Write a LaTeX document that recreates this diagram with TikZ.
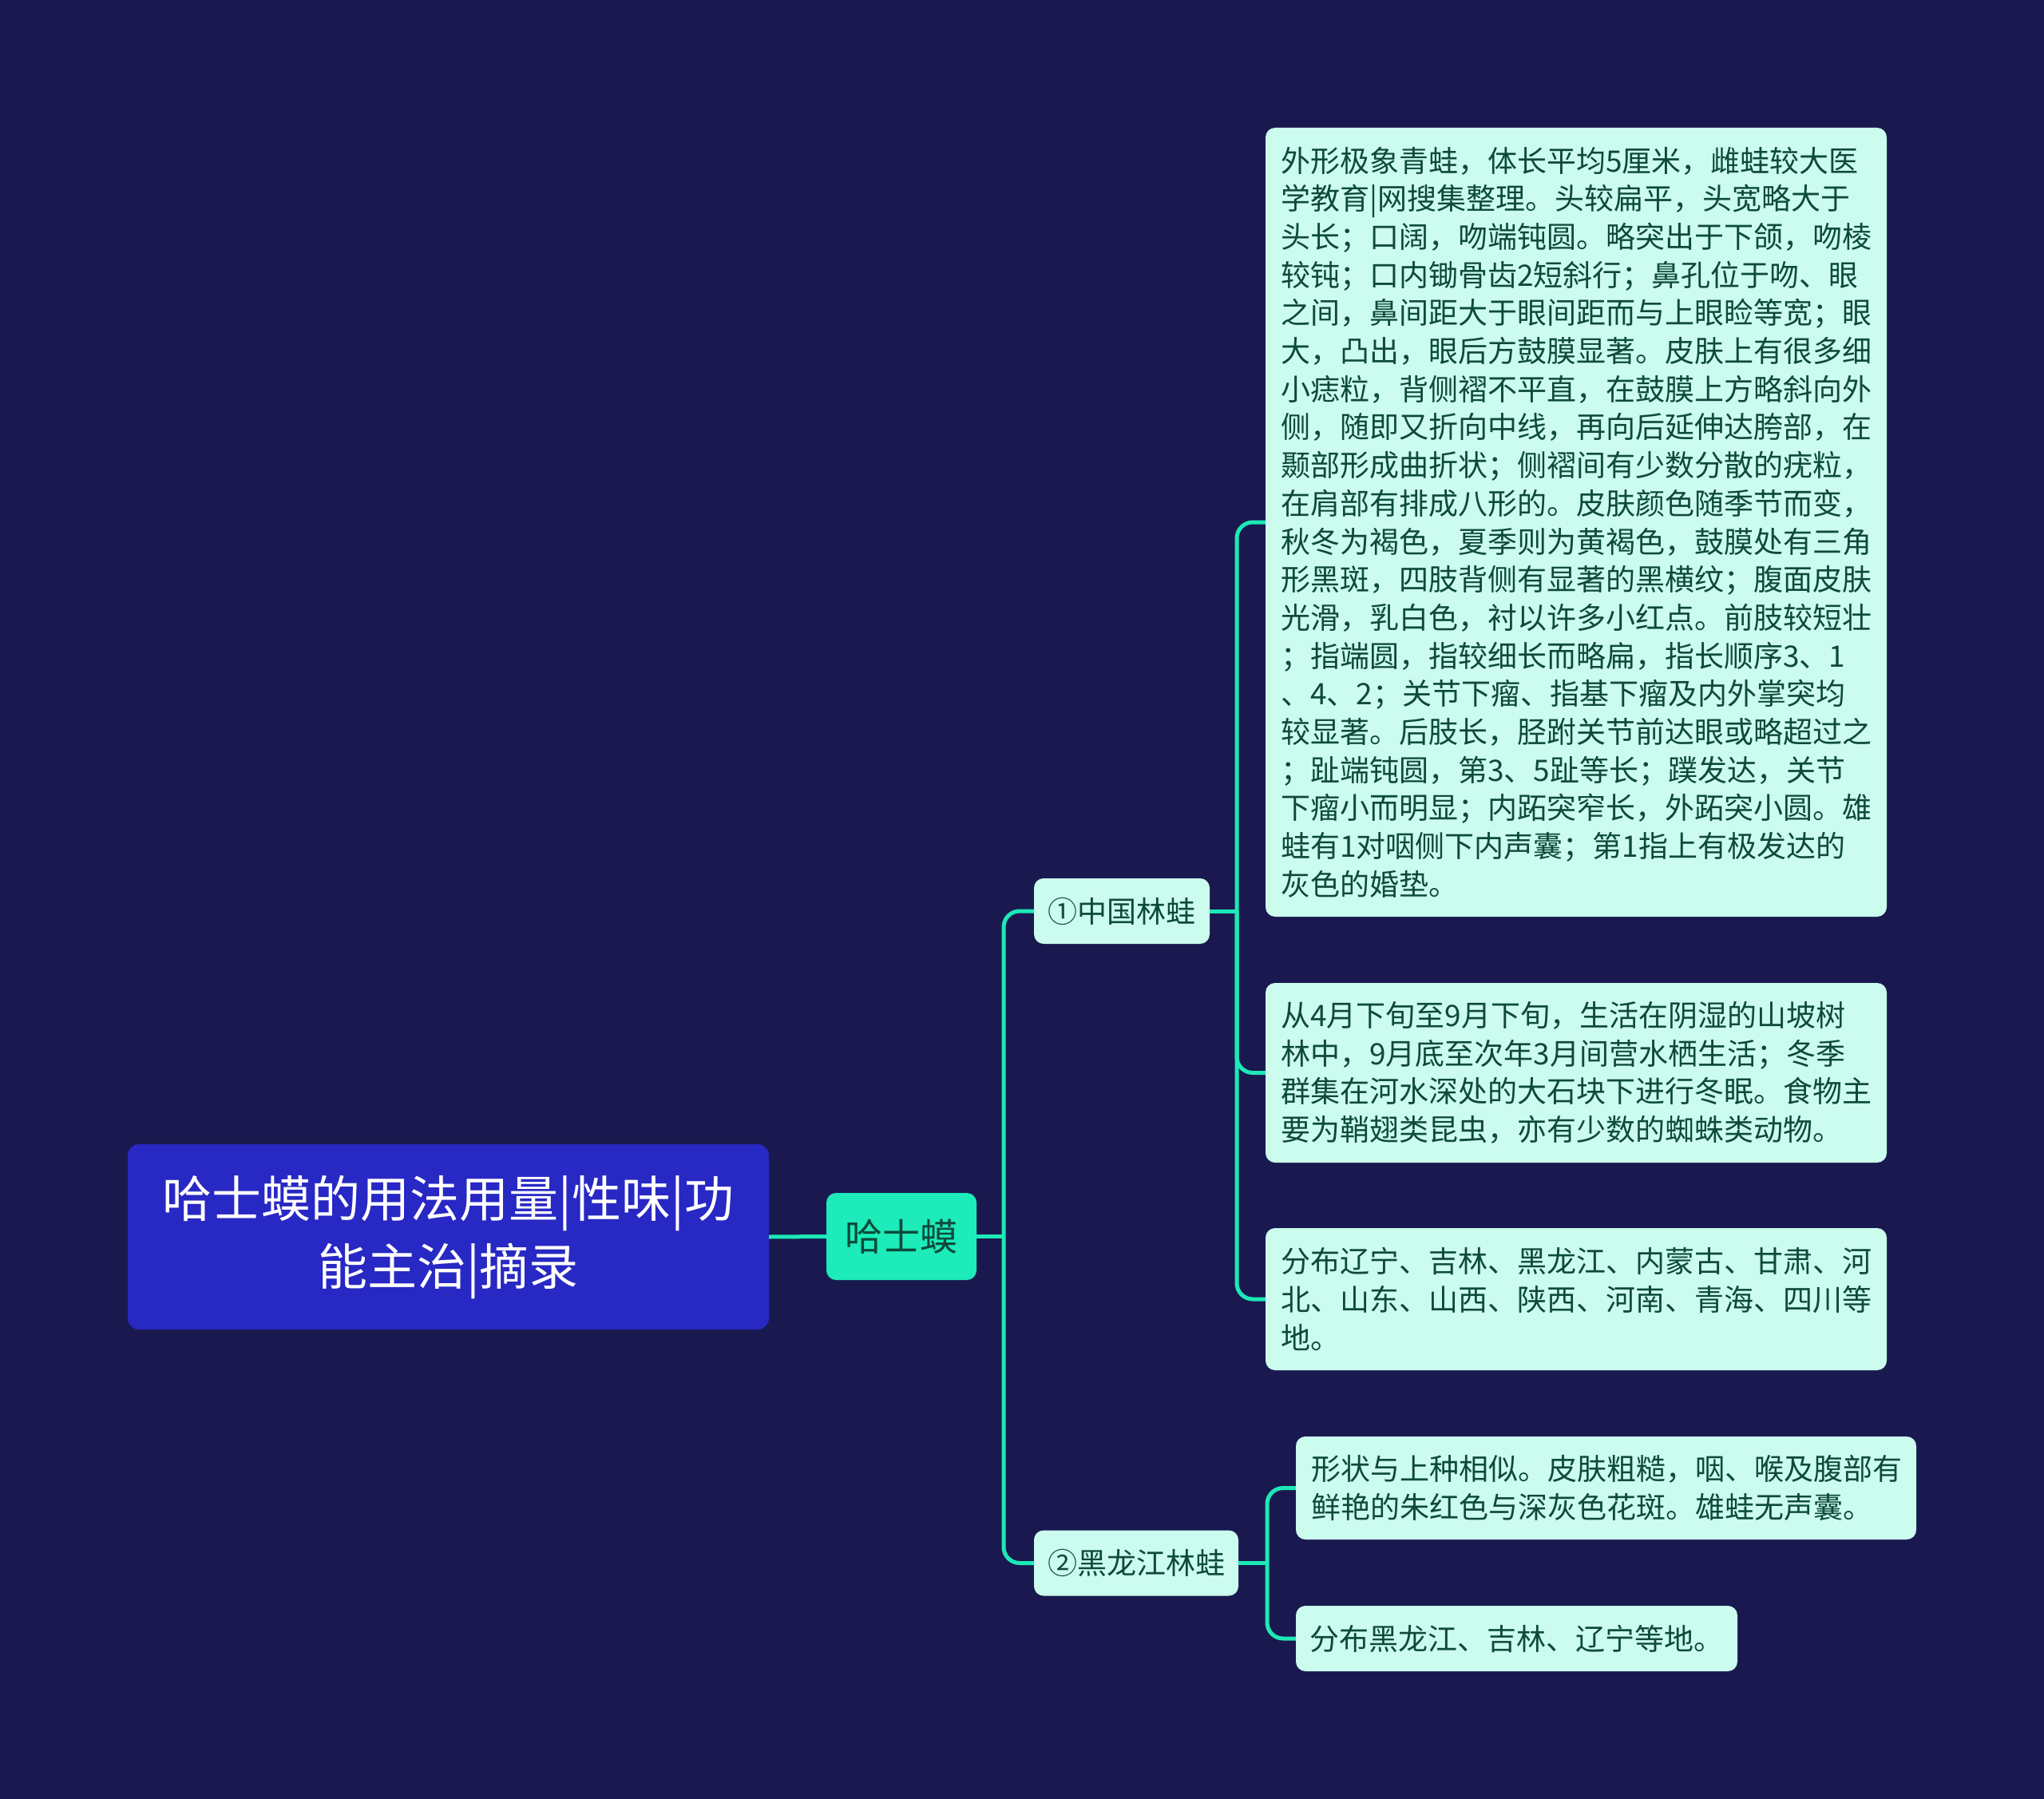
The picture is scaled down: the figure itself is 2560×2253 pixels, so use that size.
\documentclass[tikz,border=0pt]{standalone}
\usepackage{fontspec}
\setmainfont{Noto Sans CJK SC}
\definecolor{bgc}{HTML}{19194F}
\definecolor{rootfill}{HTML}{2828C4}
\definecolor{mainfill}{HTML}{1DEBBA}
\definecolor{leaffill}{HTML}{CCFCEE}
\definecolor{leaftext}{HTML}{0D4A3A}
\definecolor{conncol}{HTML}{1DE9B6}
\begin{document}
\begin{tikzpicture}[x=1pt,y=-1pt,
  rootbox/.style={fill=rootfill, rounded corners=14pt, text=white, align=center,
    font=\fontsize{62}{85}\selectfont, inner sep=0pt, minimum width=803pt, minimum height=232pt},
  mainbox/.style={fill=mainfill, rounded corners=12pt, text=leaftext,
    font=\fontsize{47}{56}\selectfont, inner sep=0pt, minimum width=188pt, minimum height=109pt},
  subbox/.style={fill=leaffill, rounded corners=12pt, text=leaftext,
    font=\fontsize{37}{47.7}\selectfont, inner sep=0pt, minimum height=82pt},
  leafbox/.style={fill=leaffill, rounded corners=12pt, text=leaftext, align=left,
    font=\fontsize{37}{47.7}\selectfont, inner xsep=19pt, inner ysep=0pt},
  conn/.style={draw=conncol, line width=5pt, rounded corners=20pt}
]
\fill[bgc] (0,0) rectangle (2560,2253);
\useasboundingbox (0,0) rectangle (2560,2253);

\node[rootbox] (root) at (561.5,1549) {哈士蟆的用法用量|性味|功\\能主治|摘录};
\node[mainbox] (main) at (1129,1548.5) {哈士蟆};
\node[subbox, minimum width=220pt] (s1) at (1405,1141) {①中国林蛙};
\node[subbox, minimum width=256pt] (s2) at (1423,1957.5) {②黑龙江林蛙};

\node[leafbox, text width=740pt, minimum height=988pt] (l1) at (1974,654) {外形极象青蛙，体长平均5厘米，雌蛙较大医\\
学教育|网搜集整理。头较扁平，头宽略大于\\
头长；口阔，吻端钝圆。略突出于下颌，吻棱\\
较钝；口内锄骨齿2短斜行；鼻孔位于吻、眼\\
之间，鼻间距大于眼间距而与上眼睑等宽；眼\\
大，凸出，眼后方鼓膜显著。皮肤上有很多细\\
小痣粒，背侧褶不平直，在鼓膜上方略斜向外\\
侧，随即又折向中线，再向后延伸达胯部，在\\
颞部形成曲折状；侧褶间有少数分散的疣粒，\\
在肩部有排成八形的。皮肤颜色随季节而变，\\
秋冬为褐色，夏季则为黄褐色，鼓膜处有三角\\
形黑斑，四肢背侧有显著的黑横纹；腹面皮肤\\
光滑，乳白色，衬以许多小红点。前肢较短壮\\
；指端圆，指较细长而略扁，指长顺序3、1\\
、4、2；关节下瘤、指基下瘤及内外掌突均\\
较显著。后肢长，胫跗关节前达眼或略超过之\\
；趾端钝圆，第3、5趾等长；蹼发达，关节\\
下瘤小而明显；内跖突窄长，外跖突小圆。雄\\
蛙有1对咽侧下内声囊；第1指上有极发达的\\
灰色的婚垫。};

\node[leafbox, text width=740pt, minimum height=225pt] (l2) at (1974,1343.5) {从4月下旬至9月下旬，生活在阴湿的山坡树\\
林中，9月底至次年3月间营水栖生活；冬季\\
群集在河水深处的大石块下进行冬眠。食物主\\
要为鞘翅类昆虫，亦有少数的蜘蛛类动物。};

\node[leafbox, text width=740pt, minimum height=178pt] (l3) at (1974,1627) {分布辽宁、吉林、黑龙江、内蒙古、甘肃、河\\
北、山东、山西、陕西、河南、青海、四川等\\
地。};

\node[leafbox, text width=739pt, minimum height=129pt] (l4) at (2011.5,1863.5) {形状与上种相似。皮肤粗糙，咽、喉及腹部有\\
鲜艳的朱红色与深灰色花斑。雄蛙无声囊。};

\node[leafbox, inner xsep=17.5pt, minimum height=82pt] (l5) at (1899.5,2052) {分布黑龙江、吉林、辽宁等地。};

\coordinate (t) at (1257,1548.5);
\coordinate (c1) at (1549,1141);
\coordinate (c2) at (1587,1957.5);

\draw[conn] (root.east) -- (main.west);
\draw[conn] (main.east) -- (t);
\draw[conn] (s1.west) -| (t) |- (s2.west);
\draw[conn] (s1.east) -- (c1);
\draw[conn] (l1.west) -| (c1) |- (l3.west);
\draw[conn] (c1) |- (l2.west);
\draw[conn] (s2.east) -- (c2);
\draw[conn] (l4.west) -| (c2) |- (l5.west);
\end{tikzpicture}
\end{document}
